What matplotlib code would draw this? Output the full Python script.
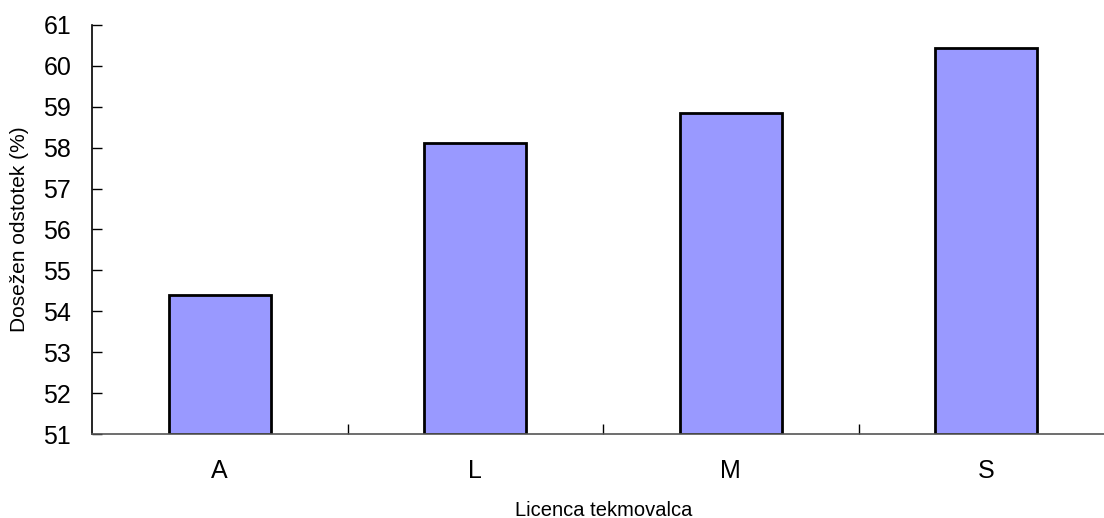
import matplotlib.pyplot as plt

plt.rcParams['font.family'] = ['Liberation Sans', 'DejaVu Sans']

# Podatki
licence = ['A', 'L', 'M', 'S']
odstotek = [54.4, 58.11, 58.85, 60.44]

fig = plt.figure(figsize=(11.04, 5.18), dpi=100)
# os sega čez desni rob slike
ax = fig.add_axes([92 / 1104, 84 / 518, 1022 / 1104, 409 / 518])

pos = range(len(licence))
ax.bar(pos, [v - 51 for v in odstotek], bottom=51, width=0.4,
       color='#9999ff', edgecolor='black', linewidth=2)

ax.set_ylim(51, 61)
ax.set_xlim(-0.5, 3.5)
ax.set_yticks(range(51, 62))
ax.set_xticks(pos)
ax.set_xticklabels(licence)
ax.set_xticks([0.5, 1.5, 2.5], minor=True)

ax.tick_params(axis='y', direction='in', length=7, width=1, labelsize=18, pad=15)
ax.tick_params(axis='x', which='major', length=0, labelsize=18, pad=18)
ax.tick_params(axis='x', which='minor', direction='in', length=7, width=1)

for s in ['top', 'right']:
    ax.spines[s].set_visible(False)
ax.spines['left'].set_linewidth(1.2)
ax.spines['bottom'].set_color('#555555')
ax.spines['bottom'].set_linewidth(1.2)

ax.set_ylabel('Dosežen odstotek (%)', fontsize=15)
ax.yaxis.set_label_coords(-63 / 1022, 0.5)
fig.text(604 / 1104, 1 - 510 / 518, 'Licenca tekmovalca', fontsize=14.5,
         ha='center', va='center')

fig.savefig('out.png', dpi=100)
